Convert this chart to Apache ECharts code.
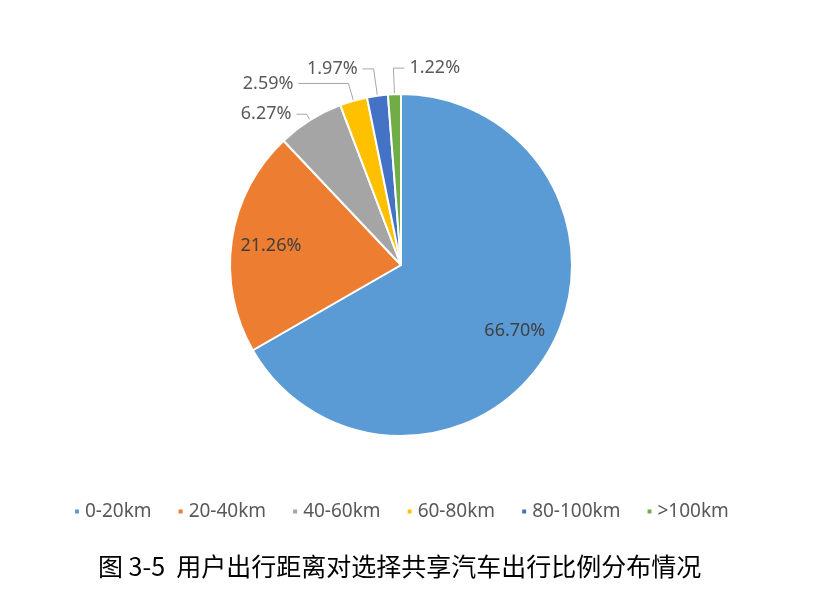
<!DOCTYPE html>
<html>
<head>
<meta charset="utf-8">
<script src="https://cdn.jsdelivr.net/npm/echarts@6/dist/echarts.min.js"></script>
<style>
  html, body { margin: 0; padding: 0; background: #fff; }
  #chart { width: 828px; height: 593px; }
</style>
</head>
<body>
<div id="chart"></div>
<script>
// 出行距离分类及占比（%）
const categories = ['0-20km', '20-40km', '40-60km', '60-80km', '80-100km', '>100km']
const shares = [66.70, 21.26, 6.27, 2.59, 1.97, 1.22]
const colors = ['#5B9BD5', '#ED7D31', '#A5A5A5', '#FFC000', '#4472C4', '#70AD47']
const titleText = '图 3-5  用户出行距离对选择共享汽车出行比例分布情况'

// 外部标签引线长度（前两块标签在扇区内，不用引线）
const lineLen = [0, 0, 7, 18, 27, 26]
const lineLen2 = [0, 0, 10, 50, 11, 11]

const fmt = p => p.value.toFixed(2) + '%'

// 主饼图：只显示外部标签
const mainData = categories.map((name, i) => ({
  name: name,
  value: shares[i],
  label: { show: i >= 2 },
  labelLine: { show: i >= 2, length: lineLen[i], length2: lineLen2[i] }
}))

// 辅助环：透明，仅用来把内部标签放到偏外的位置
const innerLabelData = categories.map((name, i) => ({
  name: name,
  value: shares[i],
  label: { show: i < 2 }
}))

const chart = echarts.init(document.getElementById('chart'))
chart.setOption({
  color: colors,
  animation: false,
  title: {
    text: titleText,
    left: 93,
    top: 549,
    textStyle: {
      fontFamily: '"Noto Sans CJK SC"',
      fontSize: 25,
      fontWeight: 'normal',
      color: '#000'
    }
  },
  legend: {
    top: 497,
    left: 68,
    itemWidth: 6,
    itemHeight: 6,
    itemGap: 25,
    icon: 'rect',
    textStyle: { fontSize: 19, color: '#595959', fontFamily: 'Noto Sans' },
    data: categories
  },
  series: [{
    type: 'pie',
    center: [401, 265],
    radius: 171,
    startAngle: 90,
    clockwise: true,
    avoidLabelOverlap: false,
    itemStyle: { borderColor: '#fff', borderWidth: 2 },
    label: {
      position: 'outside',
      formatter: fmt,
      fontSize: 18,
      color: '#595959',
      fontFamily: 'Noto Sans'
    },
    labelLine: {
      lineStyle: { color: '#A6A6A6', width: 1 }
    },
    // 最后一块（>100km）的标签翻到引线右侧
    labelLayout: function (params) {
      const pts = params.labelLinePoints
      if (params.dataIndex !== 5 || !pts) return {}
      const p1 = pts[1]
      const end = [2 * p1[0] - pts[2][0], p1[1]]
      return {
        x: end[0] + 5,
        y: end[1],
        align: 'left',
        verticalAlign: 'middle',
        labelLinePoints: [pts[0], p1, end]
      }
    },
    data: mainData
  }, {
    type: 'pie',
    center: [401, 265],
    radius: [86, 171],
    startAngle: 90,
    clockwise: true,
    silent: true,
    itemStyle: { color: 'rgba(0,0,0,0)' },
    label: {
      position: 'inside',
      formatter: fmt,
      fontSize: 18,
      color: '#404040',
      fontFamily: 'Noto Sans'
    },
    labelLine: { show: false },
    data: innerLabelData
  }]
})
</script>
</body>
</html>
